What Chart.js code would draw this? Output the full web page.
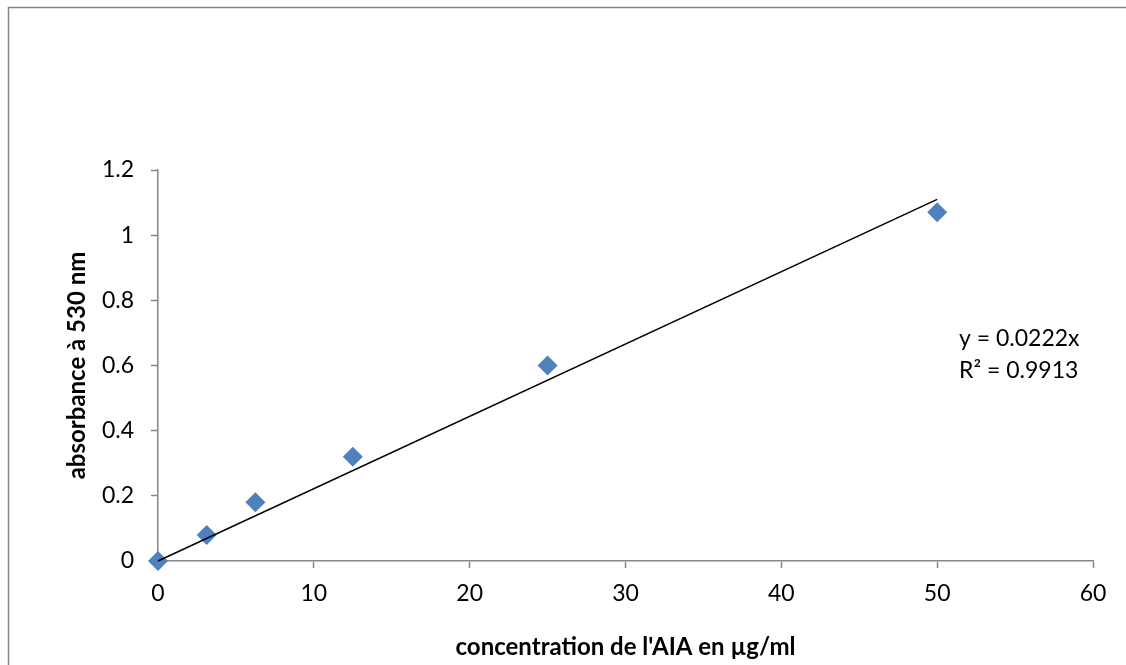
<!doctype html>
<html>

<head>
  <title>absorbance AIA</title>
  <script src="https://cdn.jsdelivr.net/npm/chart.js@4.4.1/dist/chart.umd.min.js"></script>
  <style>
    html, body {
      margin: 0;
      padding: 0;
      background: #fff;
    }
    .chart {
      width: 1126px;
      height: 665px;
    }
  </style>
</head>

<body>
  <div class="chart">
    <canvas id="myChart"></canvas>
  </div>

  <script>
    // measured points
    var concentration = [0, 3.125, 6.25, 12.5, 25, 50];
    var absorbance = [0, 0.08, 0.18, 0.32, 0.6, 1.07];

    // linear trendline shown in the picture (y = 0.0222x)
    var trendX = [0, 50];
    var trendY = [0, 1.11];
    var equationLines = ['y = 0.0222x', 'R² = 0.9913'];

    var xTicks = [0, 10, 20, 30, 40, 50, 60];
    var yTicks = [0, 0.2, 0.4, 0.6, 0.8, 1, 1.2];

    var axisGrey = '#868686';
    var fontFamily = 'Lato, "Noto Sans", sans-serif';

    function toPoints(xs, ys) {
      return xs.map(function(x, i) {
        return {x: x, y: ys[i]};
      });
    }

    var frame = {
      id: 'frame',
      beforeDraw: function(chart) {
        var ctx = chart.ctx;
        ctx.save();
        ctx.strokeStyle = axisGrey;
        ctx.lineWidth = 1.5;
        ctx.strokeRect(8.5, 7.5, 1300, 800);
        ctx.restore();
      },
      afterDraw: function(chart) {
        var ctx = chart.ctx;
        ctx.save();
        ctx.fillStyle = '#000';
        ctx.font = '23px ' + fontFamily;
        ctx.textAlign = 'left';
        ctx.textBaseline = 'alphabetic';
        ctx.fillText(equationLines[0], 959, 346);
        ctx.fillText(equationLines[1], 959, 378);
        ctx.restore();
      }
    };

    var config = {
      type: 'scatter',
      data: {
        datasets: [{
          label: 'absorbance',
          data: toPoints(concentration, absorbance),
          pointStyle: 'rectRot',
          pointRadius: 10,
          pointHoverRadius: 10,
          backgroundColor: '#4F81BD',
          borderColor: '#4F81BD',
          borderWidth: 0,
          clip: false,
          order: 2
        }, {
          type: 'line',
          label: 'trend',
          data: toPoints(trendX, trendY),
          borderColor: '#000',
          borderWidth: 1.5,
          pointRadius: 0,
          fill: false,
          clip: false,
          order: 1
        }]
      },
      options: {
        responsive: true,
        maintainAspectRatio: false,
        animation: false,
        layout: {
          padding: {left: 0, top: 170, right: 33, bottom: 0}
        },
        scales: {
          x: {
            type: 'linear',
            min: 0,
            max: 60,
            afterBuildTicks: function(scale) {
              scale.ticks = xTicks.map(function(v) { return {value: v}; });
            },
            afterFit: function(scale) {
              scale.height = 104;
            },
            grid: {
              drawOnChartArea: false,
              color: axisGrey,
              tickLength: 7,
              tickWidth: 1.5
            },
            border: {
              color: axisGrey,
              width: 1.5
            },
            ticks: {
              color: '#000',
              padding: 12,
              maxRotation: 0,
              font: {family: fontFamily, size: 23}
            },
            title: {
              display: true,
              text: "concentration de l'AIA en µg/ml",
              color: '#000',
              padding: {bottom: 3},
              font: {family: fontFamily, size: 24, weight: 'bold'}
            }
          },
          y: {
            type: 'linear',
            min: 0,
            max: 1.2,
            afterBuildTicks: function(scale) {
              scale.ticks = yTicks.map(function(v) { return {value: v}; });
            },
            afterFit: function(scale) {
              scale.width = 158;
            },
            grid: {
              drawOnChartArea: false,
              color: axisGrey,
              tickLength: 7,
              tickWidth: 1.5
            },
            border: {
              color: axisGrey,
              width: 1.5
            },
            ticks: {
              color: '#000',
              padding: 17,
              font: {family: fontFamily, size: 23},
              callback: function(v) {
                return String(Math.round(v * 10) / 10);
              }
            },
            title: {
              display: true,
              text: 'absorbance à 530 nm',
              color: '#000',
              padding: {top: 63},
              font: {family: fontFamily, size: 24, weight: 'bold'}
            }
          }
        },
        plugins: {
          legend: {display: false},
          tooltip: {enabled: false}
        }
      },
      plugins: [frame]
    };

    window.onload = function() {
      var ctx = document.getElementById('myChart').getContext('2d');
      window.myChart = new Chart(ctx, config);
    };
  </script>
</body>

</html>
